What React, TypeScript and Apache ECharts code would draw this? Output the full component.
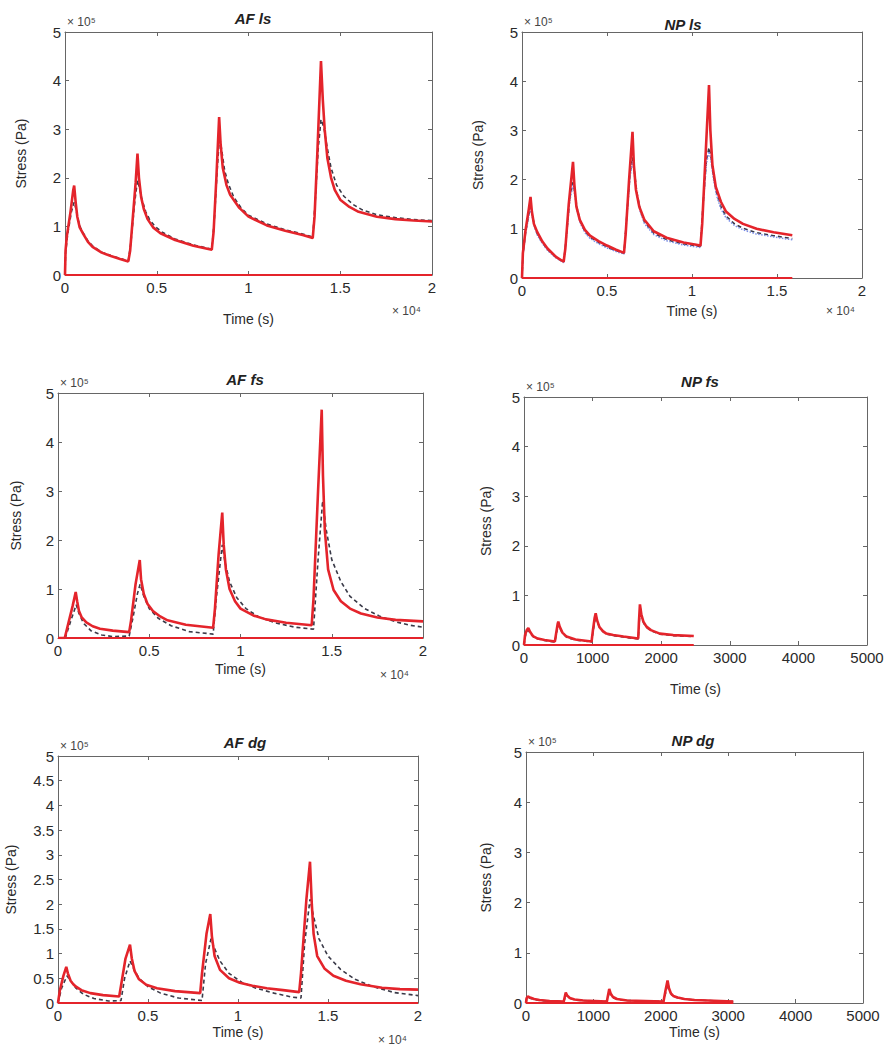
import React, { useEffect, useRef } from "react";
import * as echarts from "echarts";

type P = [number, number];

// ---------- Data (time in ×10^4 s for AF panels and NP ls, seconds for NP fs / NP dg; stress in ×10^5 Pa) ----------
const afLsModel: P[] = [[0,0],[0.003,0.5],[0.01,0.8],[0.03,1.3],[0.045,1.75],[0.05,1.84],[0.058,1.5],[0.067,1.2],[0.08,0.98],[0.1,0.84],[0.125,0.68],[0.15,0.58],[0.2,0.46],[0.25,0.39],[0.3,0.33],[0.345,0.28],[0.355,0.5],[0.37,1.2],[0.385,1.9],[0.395,2.5],[0.403,2.0],[0.415,1.6],[0.43,1.35],[0.45,1.15],[0.48,0.98],[0.52,0.86],[0.6,0.72],[0.7,0.6],[0.8,0.52],[0.81,0.9],[0.825,2.0],[0.84,3.25],[0.848,2.7],[0.86,2.2],[0.88,1.85],[0.9,1.65],[0.95,1.38],[1.0,1.2],[1.1,1.02],[1.2,0.91],[1.3,0.82],[1.35,0.76],[1.36,1.2],[1.375,2.5],[1.395,4.4],[1.405,3.6],[1.415,3.0],[1.43,2.4],[1.45,2.0],[1.47,1.75],[1.5,1.55],[1.55,1.4],[1.6,1.3],[1.7,1.2],[1.8,1.15],[1.9,1.12],[2.0,1.1]];
const afLsExp: P[] = [[0,0],[0.003,0.45],[0.015,0.85],[0.035,1.3],[0.05,1.5],[0.06,1.35],[0.07,1.15],[0.085,0.97],[0.1,0.86],[0.125,0.7],[0.15,0.6],[0.2,0.47],[0.25,0.4],[0.3,0.34],[0.345,0.29],[0.36,0.7],[0.38,1.5],[0.395,1.95],[0.405,1.8],[0.42,1.55],[0.44,1.3],[0.46,1.15],[0.49,1.0],[0.53,0.88],[0.6,0.74],[0.7,0.62],[0.8,0.53],[0.815,1.2],[0.83,2.2],[0.842,2.85],[0.855,2.55],[0.87,2.15],[0.89,1.88],[0.92,1.6],[0.96,1.38],[1.0,1.23],[1.1,1.05],[1.2,0.93],[1.3,0.84],[1.35,0.78],[1.365,1.6],[1.38,2.6],[1.395,3.2],[1.41,3.05],[1.43,2.6],[1.45,2.2],[1.48,1.85],[1.52,1.62],[1.57,1.45],[1.62,1.34],[1.7,1.24],[1.8,1.18],[1.9,1.14],[2.0,1.12]];

const npLsModel: P[] = [[0,0],[0.005,0.5],[0.02,0.95],[0.04,1.4],[0.05,1.65],[0.058,1.35],[0.07,1.1],[0.09,0.93],[0.12,0.74],[0.15,0.6],[0.2,0.43],[0.245,0.33],[0.255,0.6],[0.275,1.5],[0.3,2.36],[0.308,1.9],[0.32,1.45],[0.34,1.18],[0.37,0.98],[0.4,0.86],[0.45,0.75],[0.5,0.66],[0.55,0.58],[0.6,0.51],[0.61,0.9],[0.63,2.0],[0.65,2.97],[0.658,2.3],[0.67,1.8],[0.69,1.45],[0.72,1.18],[0.775,0.95],[0.85,0.82],[0.95,0.72],[1.05,0.66],[1.06,1.1],[1.08,2.5],[1.1,3.92],[1.108,3.0],[1.12,2.3],[1.14,1.85],[1.17,1.55],[1.2,1.35],[1.25,1.2],[1.3,1.1],[1.38,1.0],[1.48,0.93],[1.59,0.87]];
const npLsExp: P[] = [[0,0],[0.005,0.45],[0.02,0.9],[0.04,1.3],[0.052,1.45],[0.062,1.25],[0.075,1.05],[0.09,0.9],[0.12,0.72],[0.15,0.58],[0.2,0.42],[0.245,0.32],[0.26,0.8],[0.28,1.6],[0.3,1.95],[0.312,1.7],[0.325,1.4],[0.345,1.13],[0.37,0.95],[0.4,0.83],[0.45,0.72],[0.5,0.63],[0.55,0.56],[0.6,0.5],[0.615,1.2],[0.635,2.1],[0.65,2.45],[0.66,2.2],[0.675,1.75],[0.695,1.4],[0.72,1.14],[0.775,0.91],[0.85,0.78],[0.95,0.69],[1.05,0.64],[1.065,1.5],[1.085,2.4],[1.1,2.65],[1.11,2.5],[1.125,2.1],[1.145,1.72],[1.17,1.45],[1.2,1.26],[1.25,1.1],[1.3,1.01],[1.38,0.92],[1.48,0.86],[1.59,0.8]];

const afFsModel: P[] = [[0,0],[0.037,0],[0.06,0.35],[0.08,0.65],[0.097,0.94],[0.105,0.75],[0.115,0.55],[0.13,0.42],[0.155,0.32],[0.19,0.24],[0.23,0.19],[0.3,0.15],[0.39,0.12],[0.4,0.35],[0.425,1.1],[0.448,1.59],[0.455,1.2],[0.47,0.9],[0.49,0.7],[0.52,0.55],[0.56,0.44],[0.6,0.36],[0.7,0.27],[0.85,0.21],[0.86,0.6],[0.88,1.7],[0.9,2.56],[0.908,1.9],[0.92,1.4],[0.94,1.0],[0.97,0.75],[1.0,0.6],[1.07,0.46],[1.14,0.38],[1.25,0.31],[1.39,0.26],[1.4,0.8],[1.425,3.0],[1.445,4.66],[1.452,3.3],[1.462,2.2],[1.48,1.4],[1.51,0.98],[1.55,0.75],[1.6,0.6],[1.66,0.5],[1.75,0.42],[1.85,0.37],[2.0,0.34]];
const afFsExp: P[] = [[0,0],[0.04,0],[0.07,0.35],[0.1,0.68],[0.115,0.5],[0.14,0.3],[0.18,0.15],[0.24,0.06],[0.3,0.03],[0.39,0.04],[0.41,0.4],[0.435,0.9],[0.45,1.1],[0.47,0.85],[0.5,0.6],[0.55,0.4],[0.62,0.25],[0.72,0.13],[0.85,0.08],[0.87,0.9],[0.9,1.9],[0.915,1.55],[0.94,1.15],[0.98,0.82],[1.03,0.6],[1.1,0.43],[1.2,0.3],[1.3,0.22],[1.4,0.18],[1.425,1.6],[1.45,2.8],[1.47,2.2],[1.5,1.6],[1.55,1.15],[1.6,0.85],[1.68,0.6],[1.76,0.45],[1.85,0.33],[1.93,0.26],[2.0,0.22]];

const npFsModel: P[] = [[0,0],[15,0.2],[40,0.3],[63,0.34],[90,0.26],[130,0.18],[200,0.13],[300,0.1],[450,0.07],[470,0.25],[490,0.42],[500,0.47],[520,0.37],[560,0.25],[620,0.17],[750,0.11],[985,0.07],[1005,0.3],[1030,0.55],[1045,0.64],[1065,0.5],[1100,0.36],[1150,0.28],[1200,0.23],[1300,0.2],[1450,0.17],[1665,0.13],[1675,0.45],[1690,0.82],[1710,0.62],[1740,0.47],[1785,0.37],[1850,0.3],[1980,0.23],[2175,0.2],[2475,0.18]];
const npFsExp: P[] = [[0,0],[20,0.18],[45,0.27],[65,0.3],[95,0.23],[140,0.16],[210,0.12],[300,0.09],[450,0.06],[475,0.25],[495,0.38],[505,0.42],[530,0.32],[570,0.22],[630,0.15],[750,0.1],[985,0.06],[1010,0.3],[1035,0.5],[1050,0.58],[1075,0.44],[1110,0.33],[1160,0.26],[1200,0.22],[1300,0.19],[1450,0.16],[1665,0.12],[1680,0.45],[1695,0.75],[1715,0.58],[1745,0.44],[1790,0.35],[1850,0.29],[1980,0.22],[2175,0.19],[2475,0.17]];

const afDgModel: P[] = [[0,0],[0.01,0.25],[0.03,0.55],[0.046,0.73],[0.055,0.6],[0.07,0.45],[0.085,0.38],[0.1,0.33],[0.13,0.26],[0.18,0.2],[0.25,0.16],[0.34,0.13],[0.35,0.35],[0.375,0.9],[0.4,1.18],[0.41,0.9],[0.425,0.65],[0.45,0.48],[0.49,0.37],[0.55,0.3],[0.65,0.24],[0.79,0.2],[0.8,0.6],[0.825,1.4],[0.846,1.8],[0.855,1.35],[0.87,0.95],[0.9,0.67],[0.95,0.5],[1.01,0.41],[1.08,0.35],[1.16,0.3],[1.25,0.26],[1.34,0.22],[1.35,0.6],[1.38,2.1],[1.4,2.86],[1.41,2.0],[1.42,1.4],[1.44,0.95],[1.48,0.7],[1.53,0.55],[1.6,0.45],[1.68,0.38],[1.8,0.31],[1.9,0.28],[2.0,0.27]];
const afDgExp: P[] = [[0,0],[0.02,0.3],[0.05,0.55],[0.07,0.45],[0.1,0.3],[0.14,0.18],[0.2,0.09],[0.28,0.04],[0.35,0.05],[0.37,0.5],[0.4,0.85],[0.42,0.7],[0.45,0.5],[0.5,0.33],[0.57,0.2],[0.67,0.1],[0.8,0.05],[0.82,0.8],[0.85,1.3],[0.87,1.1],[0.9,0.85],[0.95,0.6],[1.02,0.42],[1.1,0.3],[1.2,0.2],[1.3,0.12],[1.35,0.1],[1.37,1.2],[1.4,2.1],[1.42,1.75],[1.45,1.3],[1.5,0.95],[1.57,0.68],[1.65,0.48],[1.75,0.33],[1.87,0.21],[2.0,0.15]];

const npDgModel: P[] = [[0,0],[8,0.09],[25,0.13],[60,0.11],[120,0.08],[200,0.06],[350,0.04],[560,0.03],[575,0.12],[590,0.21],[610,0.15],[650,0.1],[720,0.07],[850,0.05],[1200,0.03],[1215,0.14],[1235,0.28],[1255,0.19],[1290,0.12],[1350,0.08],[1500,0.05],[2040,0.03],[2070,0.25],[2100,0.45],[2120,0.3],[2150,0.19],[2185,0.14],[2250,0.11],[2350,0.08],[2500,0.06],[2700,0.05],[3075,0.03]];
const npDgExp: P[] = [[0,0],[10,0.08],[30,0.11],[70,0.09],[130,0.07],[200,0.05],[350,0.04],[560,0.03],[580,0.11],[595,0.18],[620,0.13],[660,0.09],[730,0.06],[850,0.05],[1200,0.03],[1220,0.13],[1240,0.24],[1265,0.16],[1300,0.1],[1360,0.07],[1500,0.05],[2040,0.03],[2075,0.22],[2105,0.38],[2130,0.25],[2160,0.16],[2200,0.12],[2260,0.1],[2350,0.08],[2500,0.06],[2700,0.05],[3075,0.03]];

const panelTitles = ["AF ls", "NP ls", "AF fs", "NP fs", "AF dg", "NP dg"];
const xMaxes = [2, 2, 2, 5000, 2, 5000];
const xIntervals = [0.5, 0.5, 0.5, 1000, 0.5, 1000];
const yIntervals = [1, 1, 1, 1, 0.5, 1];
const dataEnds = [2, 1.59, 2, 2475, 2, 3075];
const modelSeries = [afLsModel, npLsModel, afFsModel, npFsModel, afDgModel, npDgModel];
const expSeries = [afLsExp, npLsExp, afFsExp, npFsExp, afDgExp, npDgExp];
const xExponentText = "× 10⁴";
const yExponentText = "× 10⁵";

// ---------- Layout ----------
const grids = [
  { left: 65, top: 32, width: 367, height: 243 },
  { left: 522, top: 32, width: 340, height: 246 },
  { left: 58, top: 393, width: 365, height: 245 },
  { left: 524, top: 397, width: 343, height: 248 },
  { left: 58, top: 756, width: 360, height: 247 },
  { left: 526, top: 752, width: 337, height: 251 },
];
const titlePos = [[248, 6], [678, 12], [240, 367], [695, 369], [240, 730], [688, 728]];
const yNameGaps = [37, 37, 35, 31, 40, 33];
const xNameGaps = [37, 26, 24, 37, 22, 22];
const xExpPos: (number[] | null)[] = [[392, 305], [826, 305], [380, 669], null, [378, 1034], null];

const FONT = "Liberation Sans, Arial, sans-serif";
const RED = "#e4242b";
const DARK = "#3a3a48";
const AXIS = "#666";
const TXT = "#2a2a2a";

function buildOption() {
  const xAxis: any[] = [];
  const yAxis: any[] = [];
  const series: any[] = [];
  const title: any[] = [];
  const graphic: any[] = [];
  grids.forEach((g, i) => {
    const lineStyle = { color: AXIS, width: 1 };
    const fmt = (v: number) => String(v);
    xAxis.push({
      type: "value", gridIndex: i, min: 0, max: xMaxes[i], interval: xIntervals[i],
      name: "Time (s)", nameLocation: "middle", nameGap: xNameGaps[i],
      nameTextStyle: { fontFamily: FONT, fontSize: 14, color: TXT },
      axisLine: { onZero: false, lineStyle }, axisTick: { inside: true, length: 4, lineStyle },
      axisLabel: { fontFamily: FONT, fontSize: 15, color: TXT, margin: 5, formatter: fmt },
      splitLine: { show: false },
    });
    xAxis.push({
      type: "value", gridIndex: i, position: "top", min: 0, max: xMaxes[i], interval: xIntervals[i],
      axisLine: { show: true, onZero: false, lineStyle }, axisTick: { show: true, inside: true, length: 4, lineStyle },
      axisLabel: { show: false }, splitLine: { show: false },
    });
    yAxis.push({
      type: "value", gridIndex: i, min: 0, max: 5, interval: yIntervals[i],
      name: "Stress (Pa)", nameLocation: "middle", nameGap: yNameGaps[i],
      nameTextStyle: { fontFamily: FONT, fontSize: 14, color: TXT },
      axisLine: { show: true, onZero: false, lineStyle }, axisTick: { show: true, inside: true, length: 4, lineStyle },
      axisLabel: { fontFamily: FONT, fontSize: 15, color: TXT, margin: 4, formatter: fmt },
      splitLine: { show: false },
    });
    yAxis.push({
      type: "value", gridIndex: i, position: "right", min: 0, max: 5, interval: yIntervals[i],
      axisLine: { show: true, onZero: false, lineStyle }, axisTick: { show: true, inside: true, length: 4, lineStyle },
      axisLabel: { show: false }, splitLine: { show: false },
    });
    const xi = 2 * i;
    series.push({
      type: "line", xAxisIndex: xi, yAxisIndex: xi, data: expSeries[i], showSymbol: false,
      lineStyle: { color: DARK, width: 1.6, type: [4, 3] }, z: 2,
    });
    if (i === 1) {
      series.push({
        type: "line", xAxisIndex: xi, yAxisIndex: xi, data: npLsExp.map(([t, v]) => [t, v * 0.97]), showSymbol: false,
        lineStyle: { color: "#7a8ee8", width: 1.5, type: "dotted" }, z: 2,
      });
    }
    series.push({
      type: "line", xAxisIndex: xi, yAxisIndex: xi, data: modelSeries[i], showSymbol: false,
      lineStyle: { color: RED, width: 2.6 }, z: 3,
    });
    series.push({
      type: "line", xAxisIndex: xi, yAxisIndex: xi, data: [[0, 0], [dataEnds[i], 0]], showSymbol: false,
      lineStyle: { color: RED, width: 2.2 }, z: 3,
    });
    title.push({
      text: panelTitles[i], left: titlePos[i][0], top: titlePos[i][1], textAlign: "center",
      textStyle: { fontFamily: FONT, fontSize: 15, fontWeight: "bold", fontStyle: "italic", color: "#222" },
    });
    graphic.push({
      type: "text", left: g.left + 2, top: g.top - 16,
      style: { text: yExponentText, font: `12px ${FONT}`, fill: "#444" },
    });
    const xp = xExpPos[i];
    if (xp) {
      graphic.push({
        type: "text", left: xp[0], top: xp[1],
        style: { text: xExponentText, font: `12px ${FONT}`, fill: "#444" },
      });
    }
  });
  return {
    animation: false,
    backgroundColor: "#fff",
    title,
    grid: grids.map((g) => ({ ...g, containLabel: false })),
    xAxis,
    yAxis,
    series,
    graphic,
  };
}

export default function App() {
  const ref = useRef<HTMLDivElement>(null);
  useEffect(() => {
    if (!ref.current) return;
    const chart = echarts.init(ref.current, undefined, { renderer: "svg" });
    chart.setOption(buildOption() as any);
    return () => chart.dispose();
  }, []);
  return <div ref={ref} style={{ position: "absolute", left: 0, top: 0, width: 888, height: 1050 }} />;
}
